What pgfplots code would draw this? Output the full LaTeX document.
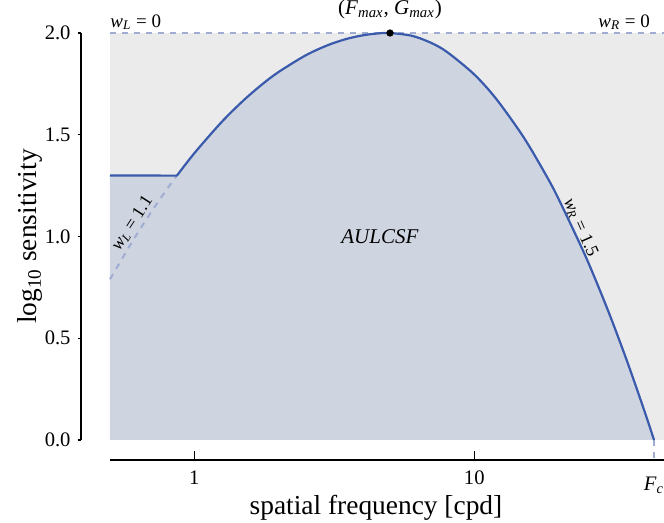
\documentclass[border=0pt]{standalone}
\usepackage{pgfplots}
\pgfplotsset{compat=1.18}
\usepackage{fontspec}
\setmainfont{Liberation Serif}
\definecolor{curveblue}{HTML}{3A5AAB}
\definecolor{dashblue}{HTML}{A0ACD2}
\definecolor{bggray}{HTML}{EBEBEB}
\definecolor{underblue}{HTML}{CFD4E1}
\newcommand{\annot}{\fontsize{10.5}{12}\selectfont}
\begin{document}
\begin{tikzpicture}
\begin{axis}[
  scale only axis, width=280pt, height=203.5pt,
  xmode=log, xmin=0.5, xmax=50, ymin=0, ymax=2,
  axis lines=left, axis line style={-, black, line width=0.6pt},
  axis x line shift=10pt, axis y line shift=14.5pt,
  clip=false,
  xtick=\empty,
  extra x ticks={1,10}, extra x tick labels={1,10},
  extra x tick style={major tick length=4.5pt},
  minor xtick={0.5,0.6,0.7,0.8,0.9,2,3,4,5,6,7,8,9,20,30,40},
  ytick={0,0.5,1,1.5,2},
  yticklabel style={/pgf/number format/.cd, fixed, fixed zerofill, precision=1},
  /pgf/number format/assume math mode=true,
  xtick align=inside, ytick align=outside,
  major tick length=1.7pt, minor tick length=2.5pt,
  tick style={black, line width=0.6pt},
  tick label style={font=\fontsize{10.3}{12}\selectfont},
  xticklabel style={yshift=-2pt},
]
\path (rel axis cs:0,0) coordinate (O);
% background
\addplot[fill=bggray, draw=none] coordinates {(0.5,0) (50,0) (50,2) (0.5,2)} -- cycle;
% area under the CSF
\addplot[fill=underblue, draw=none] coordinates {
 (0.5,0) (0.5,1.3) (0.867,1.299) (1,1.409) (1.25,1.5615) (1.5,1.6692) (1.75,1.7484)
 (2,1.8083) (2.5,1.8903) (3,1.9404) (3.5,1.9710) (4,1.9886) (4.5,1.9975) (5,2.0)
 (6,1.9859) (7,1.9520) (8,1.9063) (10,1.7961) (12,1.6747) (15,1.4879) (18,1.3036)
 (20,1.1846) (25,0.9009) (30,0.6378) (35,0.3931) (40,0.1649) (43.85,0)} -- cycle;
% top dashed line
\addplot[dashblue, dashed, line width=0.7pt] coordinates {(0.5,2) (50,2)};
% left dashed extension
\addplot[dashblue, dashed, line width=1pt, smooth] coordinates {
 (0.5,0.79) (0.6,0.974) (0.7,1.118) (0.8,1.234) (0.867,1.299)};
% Fc dashed drop
\draw[dashblue, dashed, line width=0.7pt] (axis cs:43.85,0) -- ([yshift=-10pt]axis cs:43.85,0);
% truncation
\addplot[curveblue, line width=1.1pt] coordinates {(0.5,1.3) (0.867,1.299)};
% CSF curve
\addplot[curveblue, line width=1.1pt, smooth] coordinates {
 (0.867,1.299) (1,1.409) (1.25,1.5615) (1.5,1.6692) (1.75,1.7484)
 (2,1.8083) (2.5,1.8903) (3,1.9404) (3.5,1.9710) (4,1.9886) (4.5,1.9975) (5,2.0)
 (6,1.9859) (7,1.9520) (8,1.9063) (10,1.7961) (12,1.6747) (15,1.4879) (18,1.3036)
 (20,1.1846) (25,0.9009) (30,0.6378) (35,0.3931) (40,0.1649) (43.85,0)};
% peak
\addplot[only marks, mark=*, mark size=1.6pt, black] coordinates {(5,2)};
\node[anchor=south, font=\annot, yshift=3.5pt] at (axis cs:5,2)
  {(\textit{F}\textsubscript{\textit{max}}, \textit{G}\textsubscript{\textit{max}})};
\node[anchor=south west, font=\fontsize{9.5}{11}\selectfont, inner sep=0pt, yshift=1.5pt] at (axis cs:0.5,2)
  {\textit{w}\textsubscript{\textit{L}} = 0};
\node[anchor=south east, font=\fontsize{9.5}{11}\selectfont, inner sep=0pt, yshift=1.5pt] at (axis cs:42.5,2)
  {\textit{w}\textsubscript{\textit{R}} = 0};
\node[rotate=57, font=\fontsize{9}{11}\selectfont, inner sep=0pt] at (axis cs:0.6,1.065)
  {\textit{w}\textsubscript{\textit{L}} = 1.1};
\node[rotate=-66, font=\fontsize{9}{11}\selectfont, inner sep=0pt] at (axis cs:24.0,1.045)
  {\textit{w}\textsubscript{\textit{R}} = 1.5};
\node[font=\annot\itshape] at (axis cs:4.6,1.0) {AULCSF};
% Fc label
\node[font=\fontsize{10.3}{12}\selectfont] at ([yshift=-22.5pt]axis cs:43.85,0) {\textit{F}\textsubscript{\textit{c}}};
% axis labels
\node[font=\fontsize{13.7}{16}\selectfont] at ([yshift=-34pt]rel axis cs:0.475,0) {spatial frequency [cpd]};
\node[rotate=90, font=\fontsize{13.7}{16}\selectfont] at ([xshift=-40pt]rel axis cs:0,0.5) {log\textsubscript{10} sensitivity};
\end{axis}
\pgfresetboundingbox
\path[use as bounding box] ([shift={(-55pt,-41.5pt)}]O) rectangle ([shift={(277pt,220pt)}]O);
\end{tikzpicture}
\end{document}
